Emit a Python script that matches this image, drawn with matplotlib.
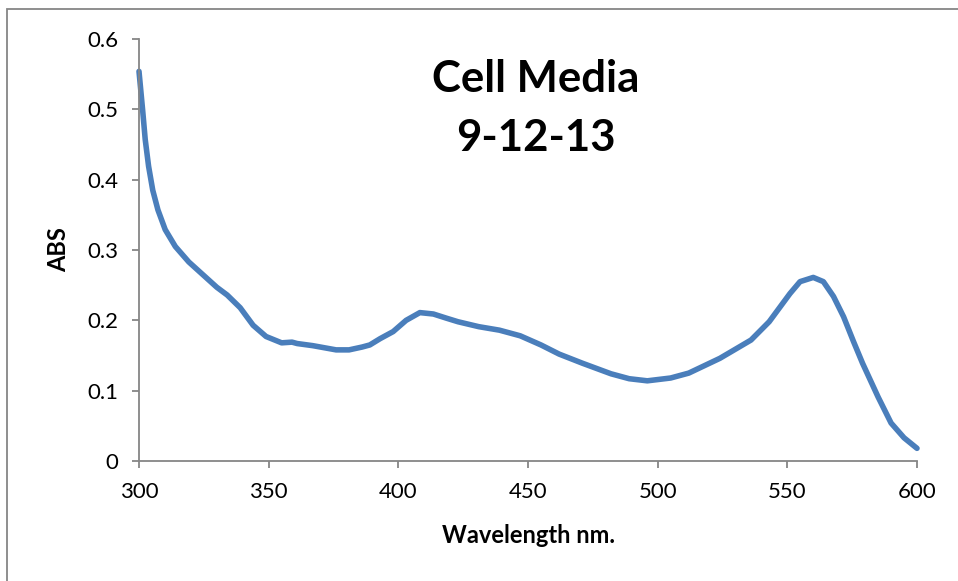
import matplotlib
matplotlib.use("Agg")
from matplotlib import pyplot as plt
from matplotlib.patches import Rectangle

# values
wavelength = [300, 301.4, 302.4, 303.7, 305.3, 307.3, 310.1, 314, 319.2, 324, 330, 334, 339,
              344, 349, 355, 359, 361, 367, 376, 381, 386, 389, 393, 398, 403, 408.3, 413.5,
              418.6, 423, 431, 439, 447, 455, 462, 471, 482, 489, 496, 505, 512, 516, 524,
              536, 543, 547.2, 551, 554.9, 560, 563.9, 567.8, 571.7, 575.5, 579, 585, 590,
              595, 600]
absorbance = [0.554, 0.499, 0.457, 0.419, 0.385, 0.357, 0.329, 0.305, 0.283, 0.267, 0.247,
              0.236, 0.218, 0.193, 0.177, 0.168, 0.169, 0.167, 0.164, 0.158, 0.158, 0.162,
              0.165, 0.174, 0.184, 0.200, 0.211, 0.209, 0.203, 0.198, 0.191, 0.186, 0.178,
              0.165, 0.152, 0.139, 0.124, 0.117, 0.114, 0.118, 0.125, 0.132, 0.146, 0.172,
              0.198, 0.219, 0.238, 0.255, 0.261, 0.255, 0.234, 0.205, 0.170, 0.139, 0.091,
              0.054, 0.033, 0.018]
x_ticks = [300, 350, 400, 450, 500, 550, 600]
y_ticks = [0, 0.1, 0.2, 0.3, 0.4, 0.5, 0.6]
y_labels = ["0", "0.1", "0.2", "0.3", "0.4", "0.5", "0.6"]

plt.rcParams['font.family'] = ['Lato', 'DejaVu Sans']
gray = "#868686"

fig = plt.figure(figsize=(9.58, 5.81), dpi=100)
W, H = 958, 581
ax = fig.add_axes([139 / W, 1 - 461 / H, (917 - 139) / W, (461 - 39) / H])

ax.plot(wavelength, absorbance, color="#4A7EBB", lw=4, solid_joinstyle="round",
        solid_capstyle="round", clip_on=False)

ax.set_xlim(300, 600)
ax.set_ylim(0, 0.6)
ax.set_xticks(x_ticks)
ax.set_yticks(y_ticks)
ax.set_yticklabels(y_labels)
for s in ["top", "right"]:
    ax.spines[s].set_visible(False)
for s in ["left", "bottom"]:
    ax.spines[s].set_color(gray)
    ax.spines[s].set_linewidth(1.3)
ax.tick_params(axis="both", direction="out", length=5, width=1.3, color=gray,
               labelsize=16, labelcolor="black")
ax.tick_params(axis="y", pad=10)
ax.tick_params(axis="x", pad=10)

ax.set_xlabel("Wavelength nm.", fontsize=17, fontweight="bold", labelpad=16)
ax.set_ylabel("ABS", fontsize=17, fontweight="bold", labelpad=12)

fig.text(536 / W, 1 - 79 / H, "Cell Media", ha="center", va="center",
         fontsize=31.5, fontweight="bold")
fig.text(536 / W, 1 - 138 / H, "9-12-13", ha="center", va="center",
         fontsize=31.5, fontweight="bold")

# outer chart frame (only top and left edges fall inside the picture)
fig.patches.append(Rectangle((7 / W, -0.1), 2, 1 - 9 / H + 0.1, transform=fig.transFigure,
                             fill=False, edgecolor=gray, lw=1.3))

fig.savefig("out.png", dpi=100)
